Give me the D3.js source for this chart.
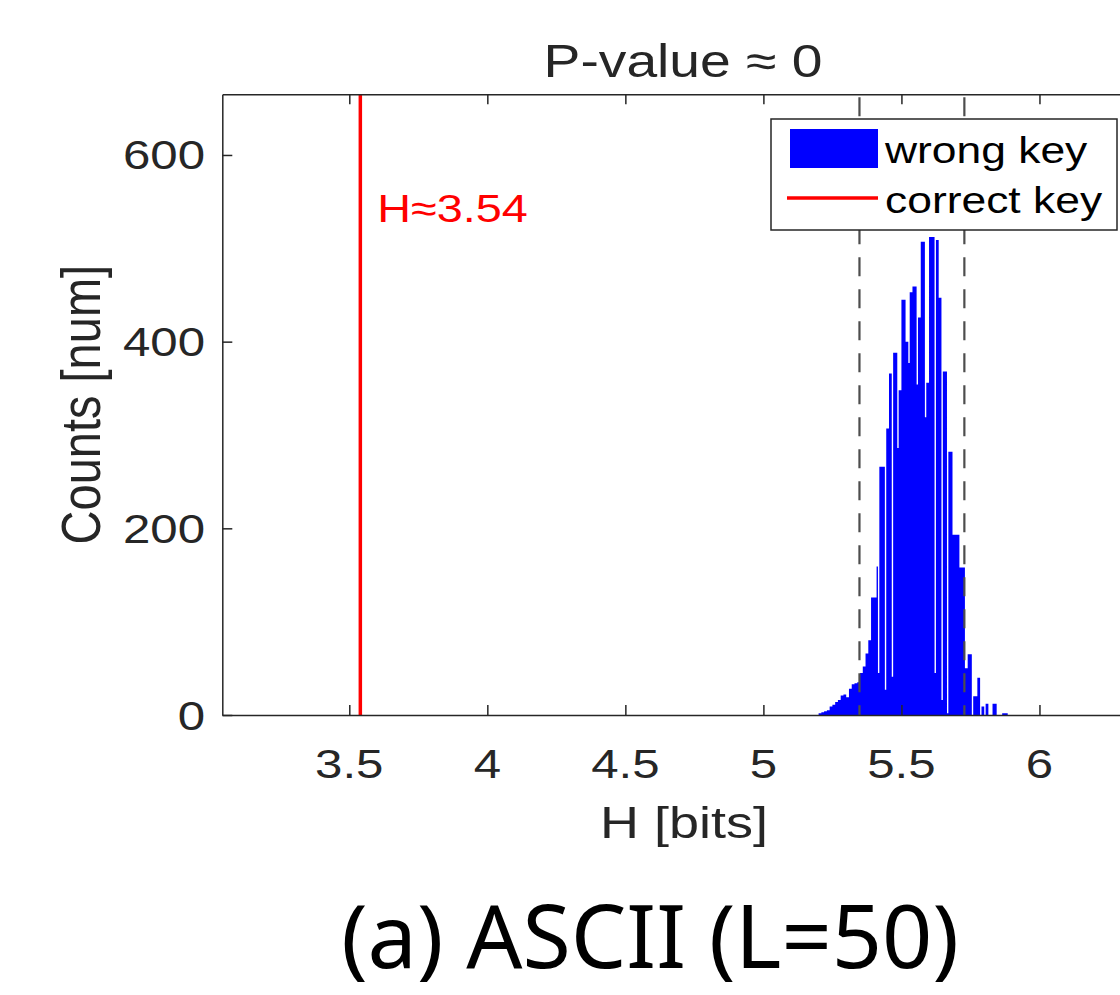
<!DOCTYPE html>
<html lang="en">

<head>
    <meta charset="UTF-8">
    <title>Entropy histogram</title>
    <style>
        body {
            padding: 0px;
            margin: 0px;
            background-color: white;
        }

        svg {
            display: block;
        }

        .lbl {
            font-family: "Liberation Sans", Arial, Helvetica, sans-serif;
            fill: #262626;
        }

        .axis path,
        .axis line {
            stroke: #262626;
            stroke-width: 1.5;
        }
    </style>
</head>

<body>
    <div id="chart"></div>

    <script src="https://cdn.jsdelivr.net/npm/d3@7"></script>
    <script>

        // data
        const binStart = 5.2;
        const binWidth = 0.005;
        const wrongKeyCounts = [
            2, 2, 3, 3, 4, 4, 5, 5, 9, 9, 11, 11, 14, 14, 16, 16, 21, 21, 22, 22,
            19, 19, 28, 28, 33, 33, 34, 34, 35, 35, 45, 45, 52, 52, 66, 66, 80, 80, 126, 126,
            126, 126, 159, 45, 266, 266, 266, 266, 27, 307,
            307, 366, 366, 41, 388, 388, 388, 286, 348, 348,
            445, 445, 445, 400, 400, 377, 453, 453, 459, 459,
            459, 354, 426, 426, 507, 507, 507, 319, 356, 356,
            512, 512, 512, 512, 45, 509, 509, 447, 447, 16,
            368, 368, 368, 2, 282, 282, 282, 193, 193, 193,
            193, 193, 158, 158, 158, 158, 50, 50, 65, 65,
            65, 0, 20, 20, 20, 40, 40, 0, 9, 9,
            0, 12, 12, 0, 0, 0, 12, 12, 12, 0,
            0, 0, 0, 2, 2, 2, 2, 0, 0, 0
        ];
        const correctKeyH = 3.54;
        const boundLines = [5.348, 5.728];
        const xTicks = [3.5, 4, 4.5, 5, 5.5, 6];
        const yTicks = [0, 200, 400, 600];
        const xDomain = [3.04, 6.32];
        const yDomain = [0, 665];

        // SVG
        const w = 1120;
        const h = 995;
        const mLeft = 222.3, mTop = 94.3, plotW = 905.5, plotH = 620.7;
        const sx = 1.2; // text is drawn a little wide, like the picture

        const svg = d3.select("#chart")
            .append("svg")
            .attr("width", w)
            .attr("height", h);

        const x = d3.scaleLinear().domain(xDomain).range([mLeft, mLeft + plotW]);
        const y = d3.scaleLinear().domain(yDomain).range([mTop + plotH, mTop]);

        // histogram as one stepped area
        const edges = wrongKeyCounts.map((c, i) => ({ h: +(binStart + i * binWidth).toFixed(4), c: c }));
        edges.push({ h: +(binStart + wrongKeyCounts.length * binWidth).toFixed(4), c: 0 });

        const area = d3.area()
            .x(d => x(d.h))
            .y0(y(0))
            .y1(d => y(d.c))
            .curve(d3.curveStepAfter);

        svg.append("path")
            .datum(edges)
            .attr("d", area)
            .attr("fill", "#0000ff");

        // dashed bounds
        svg.selectAll(".bound")
            .data(boundLines)
            .enter()
            .append("line")
            .attr("class", "bound")
            .attr("x1", d => x(d))
            .attr("x2", d => x(d))
            .attr("y1", y(yDomain[1]) + 3)
            .attr("y2", y(0))
            .attr("stroke", "#4d4d4d")
            .attr("stroke-width", 2.2)
            .attr("stroke-dasharray", "19,13");

        // correct key line
        svg.append("line")
            .attr("x1", x(correctKeyH))
            .attr("x2", x(correctKeyH))
            .attr("y1", y(yDomain[1]))
            .attr("y2", y(0))
            .attr("stroke", "#ff0000")
            .attr("stroke-width", 3.5);

        svg.append("text")
            .attr("class", "lbl")
            .attr("transform", `translate(${x(correctKeyH) + 17}, 222) scale(${sx}, 1)`)
            .style("fill", "#ff0000")
            .style("font-size", "39px")
            .text("H\u22483.54");

        // axes, ticks inside (right side of the box is off the picture)
        svg.append("g")
            .attr("class", "axis")
            .attr("transform", `translate(0, ${y(0)})`)
            .call(d3.axisBottom(x).tickValues(xTicks).tickSize(-10).tickSizeOuter(0).tickFormat(""));

        svg.append("g")
            .attr("class", "axis")
            .attr("transform", `translate(0, ${mTop})`)
            .call(d3.axisTop(x).tickValues(xTicks).tickSize(-10).tickSizeOuter(0).tickFormat(""));

        svg.append("g")
            .attr("class", "axis")
            .attr("transform", `translate(${mLeft}, 0)`)
            .call(d3.axisLeft(y).tickValues(yTicks).tickSize(-10).tickSizeOuter(0).tickFormat(""));

        svg.selectAll(".axis text").remove();

        // tick labels
        svg.selectAll(".xtick")
            .data(xTicks)
            .enter()
            .append("text")
            .attr("class", "lbl")
            .attr("text-anchor", "middle")
            .attr("transform", d => `translate(${x(d)}, 778) scale(${sx}, 1)`)
            .style("font-size", "41px")
            .text(d => d);

        svg.selectAll(".ytick")
            .data(yTicks)
            .enter()
            .append("text")
            .attr("class", "lbl")
            .attr("text-anchor", "end")
            .attr("transform", d => `translate(205, ${y(d) + 14.5}) scale(${sx}, 1)`)
            .style("font-size", "41px")
            .text(d => d);

        // labels and title
        svg.append("text")
            .attr("class", "lbl")
            .attr("text-anchor", "middle")
            .attr("transform", `translate(684, 838) scale(${sx}, 1)`)
            .style("font-size", "45px")
            .text("H [bits]");

        svg.append("text")
            .attr("class", "lbl")
            .attr("text-anchor", "middle")
            .attr("transform", `translate(100, ${mTop + plotH / 2}) scale(${sx}, 1) rotate(-90)`)
            .style("font-size", "47px")
            .text("Counts [num]");

        svg.append("text")
            .attr("class", "lbl")
            .attr("text-anchor", "middle")
            .attr("transform", `translate(683, 77) scale(${sx}, 1)`)
            .style("font-size", "46px")
            .text("P-value \u2248 0");

        // legend
        const legend = svg.append("g").attr("transform", "translate(771, 119)");

        legend.append("rect")
            .attr("width", 346)
            .attr("height", 111)
            .attr("fill", "white")
            .attr("stroke", "#262626")
            .attr("stroke-width", 1.5);

        legend.append("rect")
            .attr("x", 19)
            .attr("y", 10)
            .attr("width", 88)
            .attr("height", 39)
            .attr("fill", "#0000ff");

        legend.append("line")
            .attr("x1", 16)
            .attr("x2", 107)
            .attr("y1", 79)
            .attr("y2", 79)
            .attr("stroke", "#ff0000")
            .attr("stroke-width", 3.5);

        legend.selectAll(".legtext")
            .data(["wrong key", "correct key"])
            .enter()
            .append("text")
            .attr("class", "lbl")
            .attr("transform", (d, i) => `translate(114, ${44 + i * 50}) scale(${sx}, 1)`)
            .style("font-size", "37px")
            .style("fill", "#000")
            .text(d => d);

        // caption
        svg.append("text")
            .attr("x", 650)
            .attr("y", 968)
            .attr("text-anchor", "middle")
            .style("font-family", "'Noto Sans', 'DejaVu Sans', sans-serif")
            .style("font-size", "88px")
            .style("fill", "#000")
            .text("(a) ASCII (L=50)");

    </script>
</body>

</html>
